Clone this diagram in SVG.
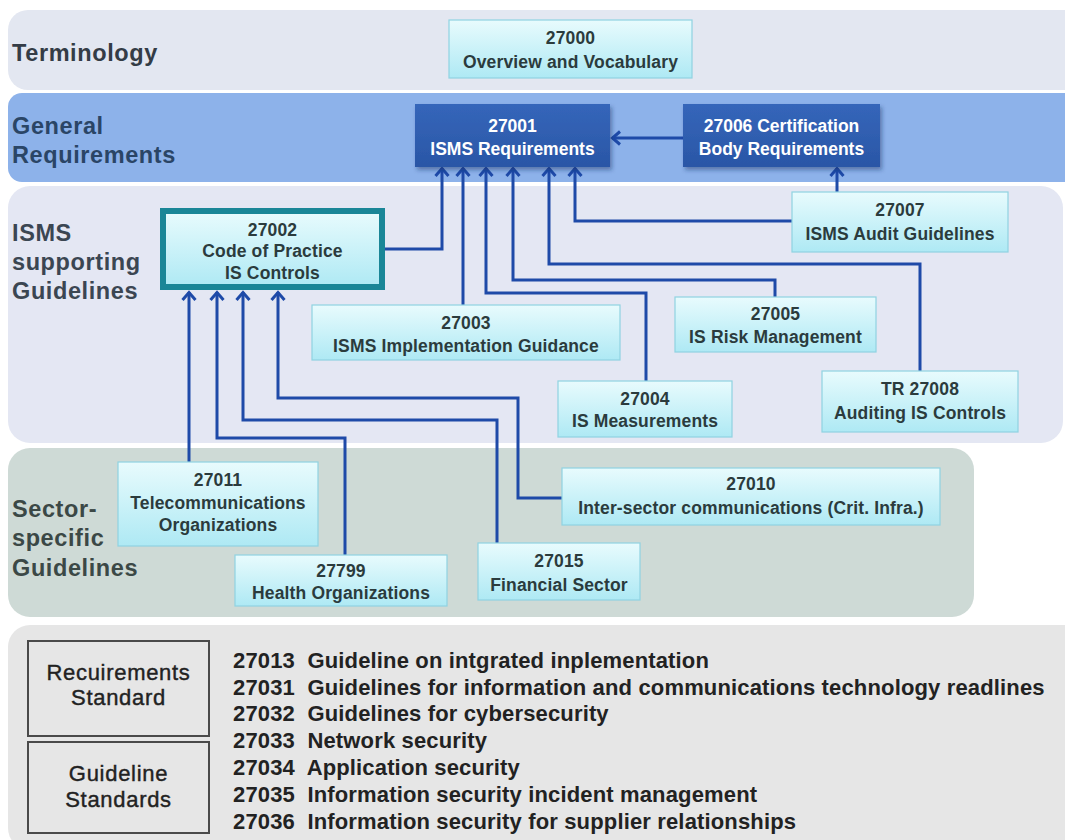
<svg xmlns="http://www.w3.org/2000/svg" width="1065" height="840" viewBox="0 0 1065 840">
<defs>
<linearGradient id="cyan" x1="0" y1="0" x2="0" y2="1">
<stop offset="0" stop-color="#e8fbfd"/>
<stop offset="1" stop-color="#aee9f4"/>
</linearGradient>
<linearGradient id="dark" x1="0" y1="0" x2="0" y2="1">
<stop offset="0" stop-color="#3566ba"/>
<stop offset="1" stop-color="#2a56a6"/>
</linearGradient>
<filter id="shadow" x="-10%" y="-10%" width="125%" height="130%">
<feDropShadow dx="2" dy="3" stdDeviation="2" flood-color="#1a2f60" flood-opacity="0.45"/>
</filter>
<marker id="arr" markerUnits="userSpaceOnUse" markerWidth="16" markerHeight="18" refX="11" refY="9" orient="auto" overflow="visible">
<path d="M3,2.5 L10.5,9 L3,15.5" fill="none" stroke="#1e4aa8" stroke-width="3" stroke-linejoin="miter"/>
</marker>
<style>
.lbl{font-family:"Liberation Sans",Arial,sans-serif;font-weight:bold;font-size:23.5px;letter-spacing:0.6px}
.bx{fill:url(#cyan);stroke:#8fd3e1;stroke-width:1.2}
.bt{font-family:"Liberation Sans",Arial,sans-serif;font-weight:bold;font-size:17.5px;letter-spacing:0.15px;fill:#2b3b3d;text-anchor:middle}
.dk{fill:url(#dark);filter:url(#shadow)}
.dt{font-family:"Liberation Sans",Arial,sans-serif;font-weight:bold;font-size:17.5px;fill:#ffffff;text-anchor:middle}
.cn{fill:none;stroke:#1e4aa8;stroke-width:3;marker-end:url(#arr)}
.std{fill:#e6e6e6;stroke:#4a4a4a;stroke-width:2}
.st{font-family:"Liberation Sans",Arial,sans-serif;font-size:22px;letter-spacing:0.7px;fill:#222;text-anchor:middle;stroke:#222;stroke-width:0.4}
.li{font-family:"Liberation Sans",Arial,sans-serif;font-weight:bold;font-size:22px;letter-spacing:0.15px;fill:#222;white-space:pre}
</style>
</defs>
<rect width="1065" height="840" fill="#ffffff"/>
<g id="bands">
<rect x="8" y="10" width="1090" height="80" rx="20" fill="#e3e7f1"/>
<rect x="8" y="93" width="1090" height="89" rx="14" fill="#8db2ea"/>
<rect x="8" y="186" width="1055" height="257" rx="22" fill="#e4e7f3"/>
<rect x="8" y="448" width="966" height="169" rx="22" fill="#cedad6"/>
<rect x="8" y="625" width="1090" height="225" rx="22" fill="#e6e6e6"/>
</g>
<g id="band-labels">
<text class="lbl" x="12" y="61" fill="#343c46">Terminology</text>
<text class="lbl" x="12" y="134" fill="#2a4566">General</text>
<text class="lbl" x="12" y="163" fill="#2a4566">Requirements</text>
<text class="lbl" x="12" y="241" fill="#3b4652">ISMS</text>
<text class="lbl" x="12" y="270" fill="#3b4652">supporting</text>
<text class="lbl" x="12" y="299" fill="#3b4652">Guidelines</text>
<text class="lbl" x="12" y="517" fill="#3b4846">Sector-</text>
<text class="lbl" x="12" y="546" fill="#3b4846">specific</text>
<text class="lbl" x="12" y="576" fill="#3b4846">Guidelines</text>
</g>
<g id="connectors">
<path class="cn" d="M683,138 H612"/>
<path class="cn" d="M385,249 H442 V168"/>
<path class="cn" d="M463,305 V168"/>
<path class="cn" d="M646,381 V293 H486 V168"/>
<path class="cn" d="M775,297 V280 H513 V168"/>
<path class="cn" d="M920,371 V264 H549 V168"/>
<path class="cn" d="M792,221 H575 V168"/>
<path class="cn" d="M837,192 V168"/>
<path class="cn" d="M189,462 V292"/>
<path class="cn" d="M345,555 V438 H217 V292"/>
<path class="cn" d="M497,543 V420 H243 V292"/>
<path class="cn" d="M562,498 H518 V398 H278 V292"/>
</g>
<g id="n27000">
<rect class="bx" x="449" y="20" width="243" height="58"/>
<text class="bt" x="570.5" y="44">27000</text>
<text class="bt" x="570.5" y="68">Overview and Vocabulary</text>
</g>
<g id="n27001">
<rect class="dk" x="415" y="104" width="195" height="63"/>
<text class="dt" x="512.5" y="132">27001</text>
<text class="dt" x="512.5" y="155">ISMS Requirements</text>
</g>
<g id="n27006">
<rect class="dk" x="683" y="104" width="197" height="63"/>
<text class="dt" x="781.5" y="132">27006 Certification</text>
<text class="dt" x="781.5" y="155">Body Requirements</text>
</g>
<g id="n27002">
<rect x="163" y="211" width="219" height="76" fill="url(#cyan)" stroke="#1a8697" stroke-width="6"/>
<text class="bt" x="272.5" y="236">27002</text>
<text class="bt" x="272.5" y="257">Code of Practice</text>
<text class="bt" x="272.5" y="279">IS Controls</text>
</g>
<g id="n27003">
<rect class="bx" x="312" y="305" width="308" height="55"/>
<text class="bt" x="466" y="329">27003</text>
<text class="bt" x="466" y="352">ISMS Implementation Guidance</text>
</g>
<g id="n27005">
<rect class="bx" x="675" y="297" width="201" height="55"/>
<text class="bt" x="775.5" y="320">27005</text>
<text class="bt" x="775.5" y="343">IS Risk Management</text>
</g>
<g id="n27004">
<rect class="bx" x="558" y="381" width="174" height="56"/>
<text class="bt" x="645" y="405">27004</text>
<text class="bt" x="645" y="427">IS Measurements</text>
</g>
<g id="n27007">
<rect class="bx" x="792" y="192" width="216" height="60"/>
<text class="bt" x="900" y="216">27007</text>
<text class="bt" x="900" y="240">ISMS Audit Guidelines</text>
</g>
<g id="n27008">
<rect class="bx" x="822" y="371" width="196" height="61"/>
<text class="bt" x="920" y="395">TR 27008</text>
<text class="bt" x="920" y="419">Auditing IS Controls</text>
</g>
<g id="n27011">
<rect class="bx" x="118" y="462" width="200" height="84"/>
<text class="bt" x="218" y="486">27011</text>
<text class="bt" x="218" y="509">Telecommunications</text>
<text class="bt" x="218" y="531">Organizations</text>
</g>
<g id="n27799">
<rect class="bx" x="235" y="555" width="212" height="51"/>
<text class="bt" x="341" y="577">27799</text>
<text class="bt" x="341" y="599">Health Organizations</text>
</g>
<g id="n27015">
<rect class="bx" x="478" y="543" width="162" height="57"/>
<text class="bt" x="559" y="567">27015</text>
<text class="bt" x="559" y="591">Financial Sector</text>
</g>
<g id="n27010">
<rect class="bx" x="562" y="468" width="378" height="57"/>
<text class="bt" x="751" y="490">27010</text>
<text class="bt" x="751" y="514">Inter-sector communications (Crit. Infra.)</text>
</g>
<g id="req-standard">
<rect class="std" x="28" y="641" width="181" height="95"/>
<text class="st" x="118.5" y="680">Recuirements</text>
<text class="st" x="118.5" y="705">Standard</text>
</g>
<g id="guide-standards">
<rect class="std" x="28" y="742" width="181" height="91"/>
<text class="st" x="118.5" y="781">Guideline</text>
<text class="st" x="118.5" y="807">Standards</text>
</g>
<g id="list">
<text class="li" x="233" y="668">27013  Guideline on intgrated inplementation</text>
<text class="li" x="233" y="695">27031  Guidelines for information and communications technology readlines</text>
<text class="li" x="233" y="721">27032  Guidelines for cybersecurity</text>
<text class="li" x="233" y="748">27033  Network security</text>
<text class="li" x="233" y="775">27034  Application security</text>
<text class="li" x="233" y="802">27035  Information security incident management</text>
<text class="li" x="233" y="829">27036  Information security for supplier relationships</text>
</g>
</svg>
